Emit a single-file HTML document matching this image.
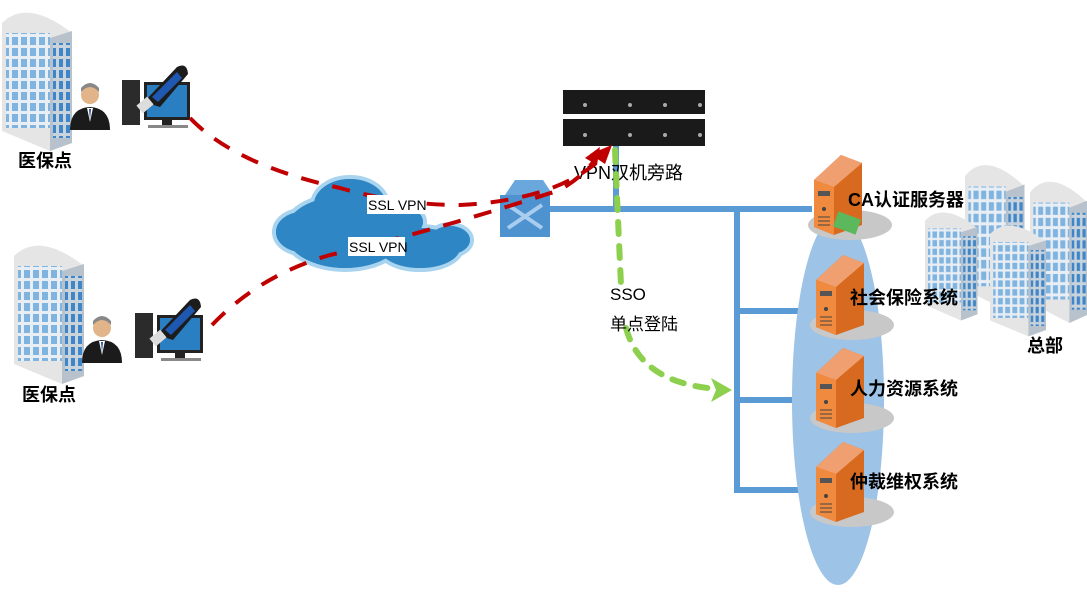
<!DOCTYPE html>
<html><head><meta charset="utf-8"><style>
html,body{margin:0;padding:0;background:#fff;}
svg{display:block;}
text{font-family:"Liberation Sans","Noto Sans CJK SC",sans-serif;}
.b{font-weight:bold;font-size:18px;fill:#000;}
</style></head><body>
<svg width="1087" height="595" viewBox="0 0 1087 595" xmlns="http://www.w3.org/2000/svg">
<defs>
<pattern id="win" width="9" height="11" patternUnits="userSpaceOnUse">
<rect width="9" height="11" fill="#e8eef4"/><rect x="1" y="1" width="6" height="8" fill="#7fb3e0"/></pattern>
<pattern id="win2" width="7" height="11" patternUnits="userSpaceOnUse">
<rect width="7" height="11" fill="#c9d3dc"/><rect x="1" y="1" width="4" height="8" fill="#3f86c8"/></pattern>
<g id="bld">
<path d="M0 20 Q25 -5 70 30 L70 140 L48 148 L0 128 Z" fill="#e5e5e5"/>
<rect x="4" y="30" width="44" height="95" fill="url(#win)"/>
<polygon points="48,35 70,28 70,140 48,148" fill="#b8c2cc"/>
<rect x="51" y="40" width="17" height="95" fill="url(#win2)"/>
</g>
<g id="srv">
<ellipse cx="44" cy="70" rx="42" ry="15" fill="#c8c8c8"/>
<polygon points="8,25 35,0 56,8 56,70 28,80 8,72" fill="#d76a1e"/>
<polygon points="8,25 35,0 56,8 28,32" fill="#f0a070"/>
<polygon points="8,25 28,32 28,80 8,72" fill="#f08a3e"/>
<rect x="12" y="36" width="12" height="5" fill="#555"/>
<circle cx="18" cy="54" r="2" fill="#444"/>
<path d="M12 62h12M12 66h12M12 70h12" stroke="#444"/>
</g>
<g id="pc">
<rect x="0" y="18" width="18" height="45" fill="#2b2b2b"/>
<rect x="22" y="20" width="46" height="38" fill="#222"/><rect x="25" y="23" width="40" height="32" fill="#2a7fc2"/>
<rect x="40" y="58" width="10" height="5" fill="#222"/><rect x="26" y="63" width="40" height="3" fill="#888"/>
<path d="M22 40 L55 5 Q65 0 66 12 L38 45 Z" fill="#1c1c1c"/>
<path d="M30 35 L55 10 L60 16 L36 40Z" fill="#1e58b0"/>
<rect x="16" y="38" width="14" height="10" fill="#ddd" transform="rotate(-40 23 43)"/>
</g>
<g id="person">
<circle cx="20" cy="13" r="9" fill="#e2b48a"/><path d="M11 10 Q20 0 29 10 L29 6 Q20 -4 11 6Z" fill="#888"/>
<path d="M0 48 Q0 26 20 25 Q40 26 40 48Z" fill="#1b1b1b"/><path d="M17 26 L20 40 L23 26Z" fill="#fff"/><path d="M19 27 L20 38 L21 27Z" fill="#2a4a8a"/>
</g>
</defs>

<!-- left buildings -->
<use href="#bld" x="2" y="3"/>
<use href="#bld" x="14" y="236"/>
<use href="#person" x="70" y="82"/>
<use href="#person" x="82" y="315"/>
<use href="#pc" x="122" y="62"/>
<use href="#pc" x="135" y="295"/>
<text x="18" y="167" class="b" font-size="17">医保点</text>
<text x="22" y="401" class="b" font-size="17">医保点</text>

<!-- cloud -->
<g fill="#2f86c4" stroke="#a8d4ef" stroke-width="4">
<ellipse cx="345" cy="232" rx="62" ry="38"/>
<ellipse cx="302" cy="232" rx="28" ry="22"/>
<ellipse cx="350" cy="205" rx="38" ry="28"/>
<ellipse cx="400" cy="222" rx="25" ry="18"/>
<ellipse cx="420" cy="248" rx="42" ry="22"/>
<ellipse cx="450" cy="240" rx="22" ry="16"/>
</g>
<g fill="#2f86c4">
<ellipse cx="345" cy="232" rx="60" ry="36"/>
<ellipse cx="302" cy="232" rx="26" ry="20"/>
<ellipse cx="350" cy="205" rx="36" ry="26"/>
<ellipse cx="400" cy="222" rx="23" ry="16"/>
<ellipse cx="420" cy="248" rx="40" ry="20"/>
<ellipse cx="450" cy="240" rx="20" ry="14"/>
</g>

<!-- HQ buildings (behind) -->
<g transform="translate(1030,172) scale(0.82,1.02)"><use href="#bld"/></g>
<g transform="translate(965,155) scale(0.85,1.05)"><use href="#bld"/></g>
<g transform="translate(925,205) scale(0.75,0.78)"><use href="#bld"/></g>
<g transform="translate(990,218) scale(0.8,0.8)"><use href="#bld"/></g>
<text x="1027" y="352" class="b" font-size="17">总部</text>

<!-- blue network lines -->
<g stroke="#5b9bd5" stroke-width="6" fill="none">
<path d="M548 209 H812"/>
<path d="M616 146 V209"/>
<path d="M737 209 V493"/>
<path d="M737 311 H810 M737 400 H810 M737 490 H810"/>
</g>

<!-- ellipse group -->
<ellipse cx="838" cy="400" rx="46" ry="185" fill="#9dc3e6"/>
<use href="#srv" x="806" y="155"/>
<rect x="835" y="215" width="24" height="16" fill="#5cb85c" transform="rotate(20 847 223)"/>
<use href="#srv" x="808" y="255"/>
<use href="#srv" x="808" y="348"/>
<use href="#srv" x="808" y="442"/>
<text x="848" y="206" class="b">CA认证服务器</text>
<text x="850" y="304" class="b">社会保险系统</text>
<text x="850" y="395" class="b">人力资源系统</text>
<text x="850" y="488" class="b">仲裁维权系统</text>

<!-- switch -->
<polygon points="505,195 515,180 543,180 553,195" fill="#6aa7dc"/>
<rect x="500" y="195" width="50" height="42" fill="#4f92d0"/>
<path d="M508 205 L542 228 M508 228 L542 205" stroke="#a9cdee" stroke-width="4"/>

<!-- VPN devices -->
<rect x="563" y="90" width="142" height="24" fill="#1a1a1a"/>
<rect x="563" y="119" width="142" height="27" fill="#1a1a1a"/>
<g fill="#aaa"><circle cx="585" cy="105" r="2"/><circle cx="630" cy="105" r="2"/><circle cx="665" cy="105" r="2"/><circle cx="700" cy="105" r="2"/><circle cx="585" cy="135" r="2"/><circle cx="630" cy="135" r="2"/><circle cx="665" cy="135" r="2"/><circle cx="700" cy="135" r="2"/></g>
<text x="574" y="179" font-size="18" fill="#000">VPN双机旁路</text>

<!-- red dashed -->
<g stroke="#c00000" stroke-width="4" fill="none" stroke-dasharray="18,14">
<path d="M190 118 Q235 165 340 188 Q400 205 460 205 Q560 200 605 155"/>
<path d="M212 325 Q260 275 330 255 Q420 235 560 190 Q585 175 596 158"/>
</g>
<polygon points="612,145 590,154 605,164" fill="#c00000"/>
<polygon points="600,147 585,158 597,165" fill="#c00000"/>

<rect x="367" y="195" width="58" height="19" fill="#fff"/>
<text x="368" y="210" font-size="14">SSL VPN</text>
<rect x="348" y="237" width="57" height="19" fill="#fff"/>
<text x="349" y="252" font-size="14">SSL VPN</text>

<!-- green dashed -->
<path d="M615 150 Q618 220 621 285 M626 328 Q640 380 708 388" stroke="#8dd04d" stroke-width="6" fill="none" stroke-dasharray="12,12" stroke-linecap="round"/>
<polygon points="711,378 732,390 711,402 716,390" fill="#8dd04d"/>
<text x="610" y="300" font-size="17">SSO</text>
<text x="610" y="330" font-size="17">单点登陆</text>
</svg>
</body></html>
